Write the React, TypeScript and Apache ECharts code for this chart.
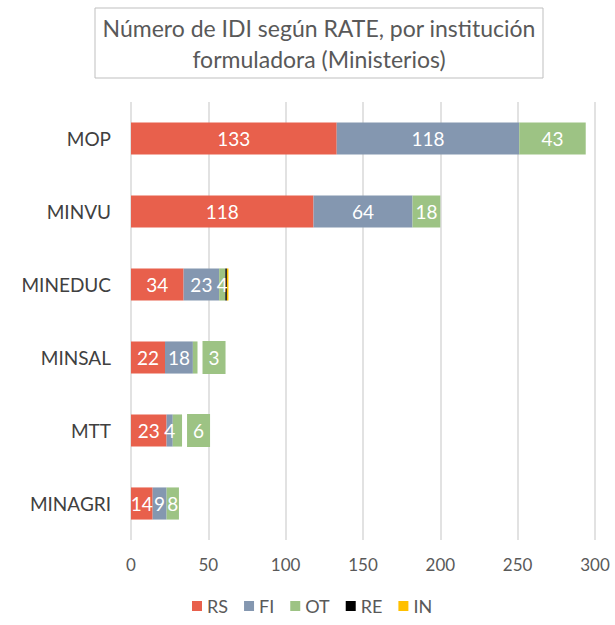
import React, { useEffect, useRef } from "react";
import * as echarts from "echarts";

const categories = ["MOP", "MINVU", "MINEDUC", "MINSAL", "MTT", "MINAGRI"];
const seriesNames = ["RS", "FI", "OT", "RE", "IN"];
const rsValues = [133, 118, 34, 22, 23, 14];
const fiValues = [118, 64, 23, 18, 4, 9];
const otValues = [43, 18, 4, 3, 6, 8];
const reValues = [0, 0, 1, 0, 0, 0];
const inValues = [0, 0, 1, 0, 0, 0];
const xTicks = [0, 50, 100, 150, 200, 250, 300];
const colors = ["#e8604c", "#8497b0", "#9dc384", "#000000", "#ffc000"];
const outsideLabelCats = ["MINSAL", "MTT"];

export default function App() {
  const ref = useRef<HTMLDivElement>(null);
  useEffect(() => {
    if (!ref.current) return;
    const chart = echarts.init(ref.current, null, { renderer: "svg" });
    const font = "Lato, 'Open Sans', sans-serif";
    const values = [rsValues, fiValues, otValues, reValues, inValues];
    const series = seriesNames.map((name, si) => ({
      name,
      type: "bar",
      stack: "total",
      barWidth: "44%",
      itemStyle: { color: colors[si] },
      label: {
        show: si < 3,
        position: "inside",
        color: "#ffffff",
        fontSize: 19,
        fontFamily: font,
        formatter: (p: any) => (p.value > 0 ? String(p.value) : ""),
      },
      data: values[si].map((v, i) => {
        if (si === 2 && outsideLabelCats.includes(categories[i])) {
          return {
            value: v,
            label: {
              show: true,
              position: "right",
              distance: 5,
              backgroundColor: colors[2],
              padding: [7, 6, 7, 6],
              color: "#ffffff",
              fontSize: 19,
              fontFamily: font,
            },
          };
        }
        return v;
      }),
    }));
    chart.setOption({
      animation: false,
      grid: { left: 131, right: 20, top: 102, bottom: 85, containLabel: false },
      xAxis: {
        type: "value",
        min: xTicks[0],
        max: xTicks[xTicks.length - 1],
        interval: 50,
        axisLine: { show: false },
        axisTick: { show: false },
        splitLine: { show: true, lineStyle: { color: "#d9d9d9", width: 1.5 } },
        axisLabel: { color: "#595959", fontSize: 17, fontFamily: font, margin: 16 },
      },
      yAxis: {
        type: "category",
        data: categories,
        inverse: true,
        axisLine: { show: false },
        axisTick: { show: false },
        axisLabel: { color: "#404040", fontSize: 19, fontFamily: font, margin: 20 },
      },
      legend: {
        top: 596,
        left: 192,
        padding: 0,
        icon: "rect",
        itemWidth: 10,
        itemHeight: 10,
        itemGap: 16,
        textStyle: { color: "#595959", fontSize: 18, fontFamily: font, lineHeight: 20 },
        data: seriesNames,
      },
      graphic: [
        {
          type: "rect",
          shape: { x: 95, y: 8, width: 448, height: 70 },
          style: { fill: "#ffffff", stroke: "#bfbfbf", lineWidth: 1 },
        },
        {
          type: "text",
          x: 319,
          y: 43,
          style: {
            text: "Número de IDI según RATE, por institución\nformuladora (Ministerios)",
            fill: "#595959",
            font: `23px ${font}`,
            lineHeight: 31,
            align: "center",
            verticalAlign: "middle",
          },
        },
      ],
      series,
    });
    return () => chart.dispose();
  }, []);
  return (
    <div
      ref={ref}
      style={{ position: "fixed", left: 0, top: 0, width: 615, height: 625, background: "#fff" }}
    />
  );
}
